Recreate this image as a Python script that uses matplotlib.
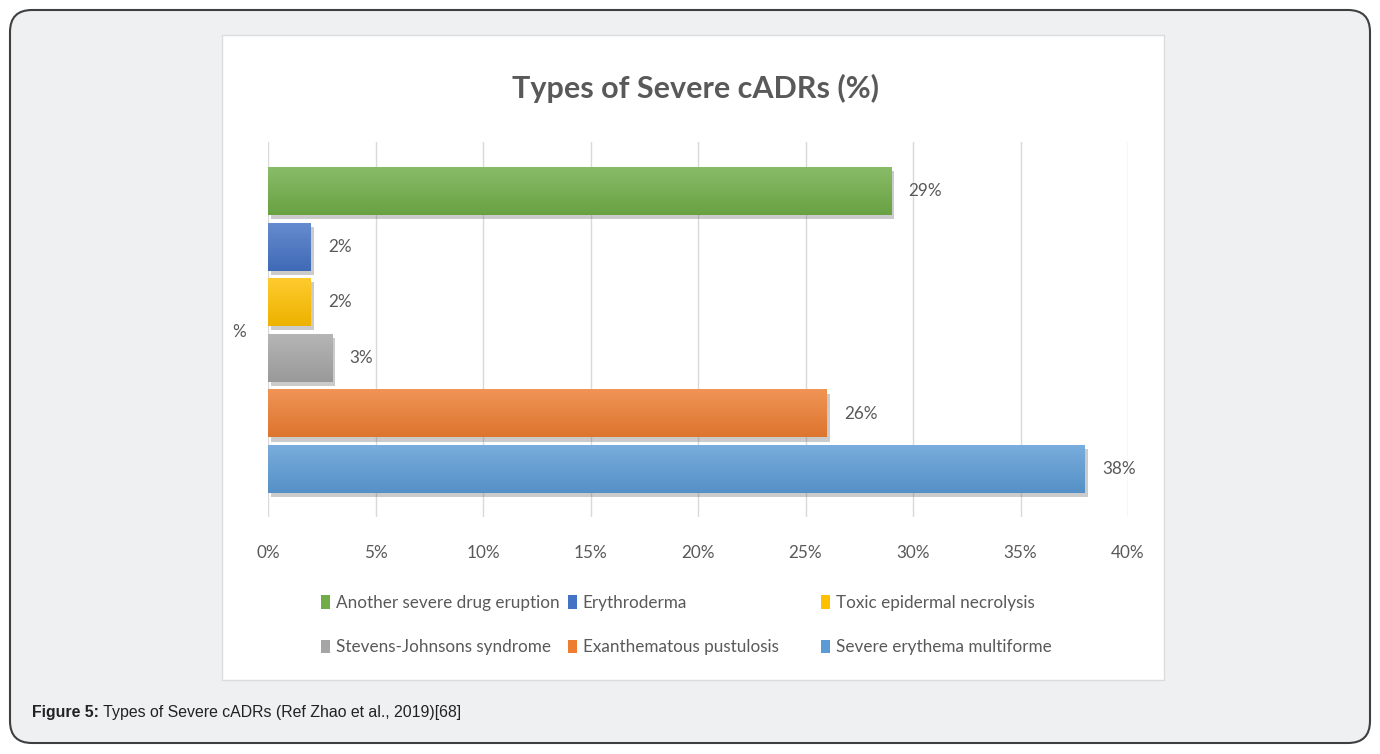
import matplotlib
matplotlib.use("Agg")
import numpy as np
import matplotlib.pyplot as plt
from matplotlib.patches import FancyBboxPatch, Rectangle, Patch
from matplotlib.colors import to_rgb
import matplotlib.patheffects as pe

# Données
categories = ["Severe erythema multiforme", "Exanthematous pustulosis",
              "Stevens-Johnsons syndrome", "Toxic epidermal necrolysis",
              "Erythroderma", "Another severe drug eruption"]
values = [38, 26, 3, 2, 2, 29]
colors = ["#5b9bd5", "#ed7d31", "#a5a5a5", "#ffc000", "#4472c4", "#70ad47"]
xticks = [0, 5, 10, 15, 20, 25, 30, 35, 40]
title = "Types of Severe cADRs (%)"
caption_bold = "Figure 5:"
caption_text = " Types of Severe cADRs (Ref Zhao et al., 2019)[68]"

W, H = 1380, 754
fig = plt.figure(figsize=(W / 100, H / 100), dpi=100)
fig.patch.set_facecolor("white")

# Cadre arrondi et panneau blanc
bg = fig.add_axes([0, 0, 1, 1])
bg.set_xlim(0, W)
bg.set_ylim(H, 0)
bg.axis("off")
bg.add_patch(FancyBboxPatch((10, 10), W - 20, H - 21,
                            boxstyle="round,pad=0,rounding_size=22",
                            facecolor="#eff0f2", edgecolor="#3f3f3f", linewidth=1.5))
bg.add_patch(Rectangle((222, 35), 942, 645, facecolor="white",
                       edgecolor="#dcdcdc", linewidth=1))

font = "Lato"
grey_txt = "#595959"
fs = 12.3

ax = fig.add_axes([268 / W, 1 - 517 / H, (1128 - 268) / W, (517 - 142) / H])
ax.set_facecolor("white")
ypos = list(range(len(values)))
bars = ax.barh(ypos, values, height=0.86, color=colors, zorder=3)
for b, c in zip(bars, colors):
    b.set_path_effects([pe.SimplePatchShadow(offset=(2, -3), alpha=0.3, shadow_rgbFace="#555555"),
                        pe.Normal()])
    # dégradé vertical (plus clair en haut)
    rgb = np.array(to_rgb(c))
    top = rgb + (1 - rgb) * 0.18
    bot = rgb * 0.93
    t = np.linspace(0, 1, 64)[:, None]
    grad = (top * (1 - t) + bot * t)[:, None, :]
    x0, y0 = b.get_x(), b.get_y()
    ax.imshow(grad, extent=[x0, x0 + b.get_width(), y0, y0 + b.get_height()],
              aspect="auto", origin="upper", zorder=4, interpolation="bilinear")

for y, v in zip(ypos, values):
    ax.text(v + 0.8, y, f"{v}%", va="center", ha="left", fontsize=fs,
            color=grey_txt, family=font)

ax.set_xlim(0, 40)
ax.set_ylim(-0.86, 5.88)
ax.set_xticks(xticks)
ax.set_xticklabels([f"{t}%" for t in xticks], fontsize=fs, color=grey_txt, family=font)
ax.set_yticks([2.5])
ax.set_yticklabels(["%"], fontsize=fs, color=grey_txt, family=font)
ax.tick_params(axis="both", length=0)
ax.tick_params(axis="x", pad=20)
ax.tick_params(axis="y", pad=16)
ax.grid(axis="x", color="#d9d9d9", linewidth=1, zorder=0)
for s in ax.spines.values():
    s.set_visible(False)

# Légende : trois colonnes comme dans Excel
columns = [[5, 2], [4, 1], [3, 0]]
col_x = [321, 568, 821]
for k, (idx, cx) in enumerate(zip(columns, col_x)):
    handles = [Patch(facecolor=colors[i], label=categories[i]) for i in idx]
    leg = fig.legend(handles=handles, ncol=1, loc="center left",
                     bbox_to_anchor=(cx / W, 1 - 625 / H), frameon=False,
                     prop={"family": font, "size": fs}, handlelength=0.55, handleheight=0.8,
                     handletextpad=0.3, labelspacing=1.65, borderpad=0, borderaxespad=0)
    for t in leg.get_texts():
        t.set_color(grey_txt)

fig.text(695 / W, 1 - 88 / H, title, ha="center", va="center", fontsize=22,
         fontweight="bold", color=grey_txt, family=font)

# Légende de figure
fig.canvas.draw()
t1 = fig.text(32 / W, 1 - 712 / H, caption_bold, ha="left", va="center", fontsize=11.4,
              fontweight="bold", color="#222222", family="Liberation Sans")
bb = t1.get_window_extent(fig.canvas.get_renderer())
fig.text(bb.x1 / W, 1 - 712 / H, caption_text, ha="left", va="center", fontsize=11.4,
         color="#222222", family="Liberation Sans")

fig.savefig("out.png", dpi=100)
